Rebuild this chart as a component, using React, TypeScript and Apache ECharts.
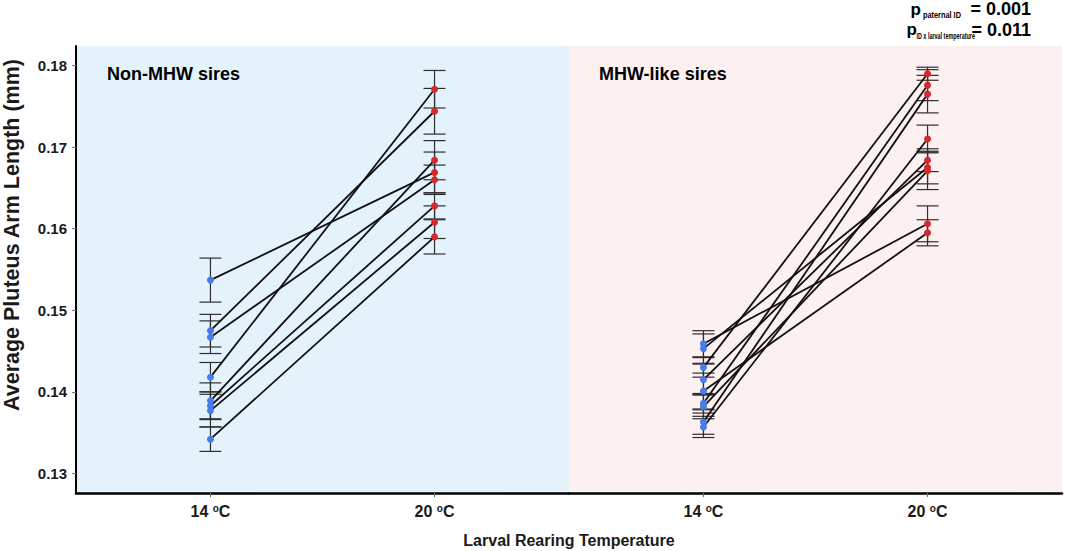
import React, { useEffect, useRef } from "react";
import * as echarts from "echarts";

// ---- data ----
const temperatures = ["14", "20"];
const yTicks = [0.13, 0.14, 0.15, 0.16, 0.17, 0.18];
const panelTitles = ["Non-MHW sires", "MHW-like sires"];
const xTitle = "Larval Rearing Temperature";
const yTitle = "Average Pluteus Arm Length (mm)";

// Non-MHW sires (paired by index: 14 °C -> 20 °C)
const nonMhw14 = [0.1537, 0.1475, 0.1467, 0.1418, 0.1389, 0.1383, 0.1377, 0.1342];
const nonMhw14Se = [0.0027, 0.002, 0.002, 0.0018, 0.0022, 0.0017, 0.002, 0.0015];
const nonMhw20 = [0.1669, 0.1744, 0.166, 0.1771, 0.1684, 0.1628, 0.1608, 0.159];
const nonMhw20Se = [0.0025, 0.0028, 0.0018, 0.0023, 0.0024, 0.0016, 0.002, 0.0021];

// MHW-like sires
const mhw14 = [0.1459, 0.1453, 0.143, 0.1415, 0.1401, 0.1386, 0.1382, 0.1363, 0.1357];
const mhw14Se = [0.0016, 0.0018, 0.0012, 0.0019, 0.0022, 0.0012, 0.0015, 0.0015, 0.0013];
const mhw20 = [0.1606, 0.1675, 0.179, 0.1684, 0.1595, 0.1776, 0.1671, 0.1765, 0.171];
const mhw20Se = [0.0022, 0.002, 0.0008, 0.0014, 0.0016, 0.0019, 0.0023, 0.0023, 0.0017];

const pStats = [
  { sub: "paternal ID", value: "= 0.001" },
  { sub: "ID x larval temperature", value: "= 0.011" },
];

// ---- styling ----
const FONT = "'Liberation Sans', Arial, Helvetica, sans-serif";
const BLUE = "#4a7bec";
const RED = "#d7282c";
const BG = ["#e4f2fc", "#fdf0f0"];
const GRID_TOP = 46;
const GRID_H = 447;
const PANEL_W = 493;
const GRID_LEFT = [76, 569];

function errorBarSeries(gridIdx: number, x: number, vals: number[], se: number[]) {
  return {
    type: "custom",
    xAxisIndex: gridIdx,
    yAxisIndex: gridIdx,
    z: 2,
    silent: true,
    encode: { x: 0, y: [1, 2] },
    data: vals.map((v, i) => [x, v - se[i], v + se[i]]),
    renderItem: (params: any, api: any) => {
      const xv = api.value(0);
      const lo = api.coord([xv, api.value(1)]);
      const hi = api.coord([xv, api.value(2)]);
      const w = 11;
      const style = { stroke: "#2e2e2e", lineWidth: 1.2 };
      return {
        type: "group",
        children: [
          { type: "line", shape: { x1: lo[0], y1: lo[1], x2: hi[0], y2: hi[1] }, style },
          { type: "line", shape: { x1: lo[0] - w, y1: lo[1], x2: lo[0] + w, y2: lo[1] }, style },
          { type: "line", shape: { x1: hi[0] - w, y1: hi[1], x2: hi[0] + w, y2: hi[1] }, style },
        ],
      };
    },
  };
}

function pairLineSeries(gridIdx: number, a: number[], b: number[]) {
  return {
    type: "custom",
    xAxisIndex: gridIdx,
    yAxisIndex: gridIdx,
    z: 3,
    silent: true,
    encode: { x: [0, 2], y: [1, 3] },
    data: a.map((v, i) => [1, v, 2, b[i]]),
    renderItem: (params: any, api: any) => {
      const p1 = api.coord([api.value(0), api.value(1)]);
      const p2 = api.coord([api.value(2), api.value(3)]);
      return {
        type: "line",
        shape: { x1: p1[0], y1: p1[1], x2: p2[0], y2: p2[1] },
        style: { stroke: "#111", lineWidth: 1.8 },
      };
    },
  };
}

function pointSeries(gridIdx: number, x: number, vals: number[], color: string) {
  return {
    type: "scatter",
    xAxisIndex: gridIdx,
    yAxisIndex: gridIdx,
    z: 4,
    symbolSize: 7,
    itemStyle: { color, opacity: 1 },
    data: vals.map((v) => [x, v]),
  };
}

export default function App() {
  const ref = useRef<HTMLDivElement>(null);

  useEffect(() => {
    if (!ref.current) return;
    const chart = echarts.init(ref.current, undefined, { renderer: "svg" });

    const xAxes = [0, 1].map((g) => ({
      type: "value",
      gridIndex: g,
      min: 0.4,
      max: 2.6,
      splitLine: { show: false },
      axisLine: { show: true, onZero: false, lineStyle: { color: "#000", width: 2.5 } },
      axisTick: {
        show: true,
        customValues: [1, 2],
        length: 4,
        lineStyle: { color: "#666", width: 1 },
      },
      axisLabel: {
        show: true,
        customValues: [1, 2],
        margin: 10,
        formatter: (v: number) => `${temperatures[Math.round(v) - 1]} {s|o}C`,
        color: "#1a1a1a",
        fontFamily: FONT,
        fontWeight: "bold",
        fontSize: 16,
        rich: {
          s: { fontSize: 10, fontWeight: "bold", fontFamily: FONT, color: "#1a1a1a", verticalAlign: "top" },
        },
      },
    }));

    const yAxes = [0, 1].map((g) => ({
      type: "value",
      gridIndex: g,
      min: 0.1276,
      max: 0.1824,
      show: g === 0,
      splitLine: { show: false },
      axisLine: { show: g === 0, onZero: false, lineStyle: { color: "#000", width: 2 } },
      axisTick: {
        show: g === 0,
        customValues: yTicks,
        length: 4,
        lineStyle: { color: "#777", width: 1 },
      },
      axisLabel: {
        show: g === 0,
        customValues: yTicks,
        margin: 9,
        formatter: (v: number) => v.toFixed(2),
        color: "#1a1a1a",
        fontFamily: FONT,
        fontWeight: "bold",
        fontSize: 15,
      },
    }));

    const graphics: any[] = [
      {
        type: "text",
        x: 12,
        y: 235,
        rotation: Math.PI / 2,
        style: {
          text: yTitle,
          align: "center",
          verticalAlign: "middle",
          fontFamily: FONT,
          fontWeight: "bold",
          fontSize: 21.5,
          fill: "#1a1a1a",
        },
      },
      {
        type: "text",
        x: 569,
        y: 540,
        style: {
          text: xTitle,
          align: "center",
          verticalAlign: "middle",
          fontFamily: FONT,
          fontWeight: "bold",
          fontSize: 16,
          fill: "#1a1a1a",
        },
      },
      {
        type: "text",
        x: 107,
        y: 74,
        z: 10,
        style: {
          text: panelTitles[0],
          align: "left",
          verticalAlign: "middle",
          fontFamily: FONT,
          fontWeight: "bold",
          fontSize: 18,
          fill: "#000",
        },
      },
      {
        type: "text",
        x: 599,
        y: 74,
        z: 10,
        style: {
          text: panelTitles[1],
          align: "left",
          verticalAlign: "middle",
          fontFamily: FONT,
          fontWeight: "bold",
          fontSize: 18,
          fill: "#000",
        },
      },
    ];

    const pLayout = [
      { pX: 921, pY: 9.5, subX: 961, subY: 15, subSize: 9, subScale: 0.82, valY: 8.7 },
      { pX: 917, pY: 29, subX: 975, subY: 36.5, subSize: 8.5, subScale: 0.64, valY: 29.7 },
    ];
    pStats.forEach((s, i) => {
      const L = pLayout[i];
      graphics.push(
        {
          type: "text",
          x: L.pX,
          y: L.pY,
          style: { text: "p", align: "right", verticalAlign: "middle", fontFamily: FONT, fontWeight: "bold", fontSize: 17, fill: "#000" },
        },
        {
          type: "text",
          x: L.subX,
          y: L.subY,
          scaleX: L.subScale,
          originX: 0,
          originY: 0,
          style: { text: s.sub, align: "right", verticalAlign: "middle", fontFamily: FONT, fontWeight: "bold", fontSize: L.subSize, fill: "#000" },
        },
        {
          type: "text",
          x: 1031,
          y: L.valY,
          style: { text: s.value, align: "right", verticalAlign: "middle", fontFamily: FONT, fontWeight: "bold", fontSize: 18, fill: "#000" },
        }
      );
    });

    chart.setOption({
      animation: false,
      backgroundColor: "#ffffff",
      grid: [0, 1].map((g) => ({
        left: GRID_LEFT[g],
        top: GRID_TOP,
        width: PANEL_W,
        height: GRID_H,
        show: true,
        backgroundColor: BG[g],
        borderWidth: 0,
      })),
      xAxis: xAxes,
      yAxis: yAxes,
      graphic: graphics,
      series: [
        errorBarSeries(0, 1, nonMhw14, nonMhw14Se),
        errorBarSeries(0, 2, nonMhw20, nonMhw20Se),
        errorBarSeries(1, 1, mhw14, mhw14Se),
        errorBarSeries(1, 2, mhw20, mhw20Se),
        pairLineSeries(0, nonMhw14, nonMhw20),
        pairLineSeries(1, mhw14, mhw20),
        pointSeries(0, 1, nonMhw14, BLUE),
        pointSeries(0, 2, nonMhw20, RED),
        pointSeries(1, 1, mhw14, BLUE),
        pointSeries(1, 2, mhw20, RED),
      ],
    });

    return () => chart.dispose();
  }, []);

  return (
    <div
      ref={ref}
      style={{ position: "absolute", left: 0, top: 0, width: 1065, height: 551 }}
    />
  );
}
